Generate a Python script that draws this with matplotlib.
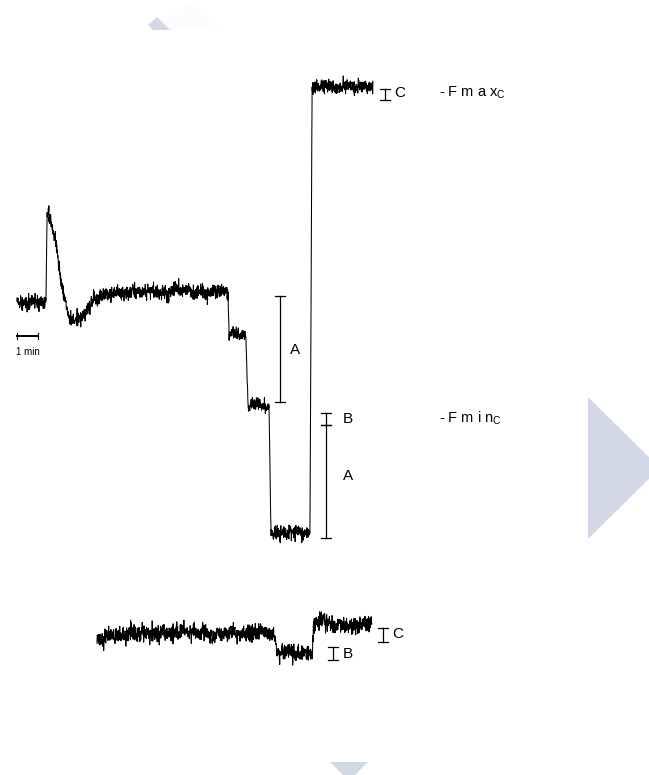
import matplotlib
matplotlib.use("Agg")
import matplotlib.pyplot as plt
import numpy as np
from matplotlib.patches import Polygon

plt.rcParams['font.family'] = ['Liberation Sans', 'DejaVu Sans']
plt.rcParams['mathtext.default'] = 'regular'

# main fluorescence trace: time (min) / level (a.u.) at the turning points
main_t = [0.00, 1.38, 1.43, 1.52, 1.81, 2.14, 2.38, 2.67, 3.10, 3.57, 4.19, 5.14,
          10.05, 10.10, 10.90, 11.00, 12.00, 12.10, 13.95, 14.05, 16.95]
main_F = [472, 472, 559, 562, 537, 490, 462, 453, 457, 473, 481, 483,
          483, 440, 442, 370, 370, 242, 242, 689, 689]

# control trace underneath
ctrl_t = [3.81, 4.43, 6.33, 12.24, 12.38, 14.05, 14.14, 14.43, 15.14, 16.90]
ctrl_F = [133, 138, 142, 142, 123, 122, 153, 155, 149, 150]

# calibration bars: (time, bottom, top)
bars = [
    (12.52, 373, 479),
    (14.71, 350, 362),
    (14.71, 237, 350),
    (17.52, 675, 686),
    (17.43, 133, 147),
    (15.05, 115, 128),
]

W, H = 649, 775
px_per_min = 21.0
x0_px = 17.0

fig = plt.figure(figsize=(W / 100, H / 100), dpi=100)
ax = fig.add_axes([0, 0, 1, 1])
ax.set_xlim(-x0_px / px_per_min, (W - x0_px) / px_per_min)
ax.set_ylim(0, H)
ax.axis('off')

rng = np.random.default_rng(11)


def noisy(tk, fk, sd, dt=1 / 110):
    t = np.arange(tk[0], tk[-1] + dt / 2, dt)
    f = np.interp(t, tk, fk)
    slow = np.convolve(rng.normal(0, 1, t.size), np.ones(25) / 5, mode='same')
    return t, f + rng.normal(0, sd, t.size) + slow * sd * 0.35


t, f = noisy(main_t, main_F, 3.3)
ax.plot(t, f, color='black', lw=0.75)
t, f = noisy(ctrl_t, ctrl_F, 3.8)
ax.plot(t, f, color='black', lw=0.75)

cap = 0.24
for bt, lo, hi in bars:
    ax.plot([bt, bt], [lo, hi], color='black', lw=0.9)
    ax.plot([bt - cap, bt + cap], [lo, lo], color='black', lw=0.9)
    ax.plot([bt - cap, bt + cap], [hi, hi], color='black', lw=0.9)

lab = dict(fontsize=11, va='center', ha='left')
ax.text(13.0, 425, 'A', **lab)
ax.text(15.5, 356, 'B', **lab)
ax.text(15.5, 299, 'A', **lab)
ax.text(17.95, 682, 'C', **lab)
ax.text(17.85, 141, 'C', **lab)
ax.text(15.5, 121, 'B', **lab)

ax.text(20.1, 682, '- F m a x$_{C}$', fontsize=10.5, va='center', ha='left')
ax.text(20.1, 357, '- F m i n$_{C}$', fontsize=10.5, va='center', ha='left')

# 1 min scale bar
ax.plot([0, 1], [439, 439], color='black', lw=1.4)
ax.plot([0, 0], [436, 442], color='black', lw=0.8)
ax.plot([1, 1], [436, 442], color='black', lw=0.8)
ax.text(0.5, 423, '1 min', fontsize=7, ha='center', va='center')

# page navigation arrows (pixel coords)
def px_poly(pts, color):
    pts = [(x / W, 1 - y / H) for x, y in pts]
    fig.patches.append(Polygon(pts, closed=True, transform=fig.transFigure,
                               facecolor=color, edgecolor='none'))

arrow = '#d3d8e7'
px_poly([(588, 397), (588, 539), (660, 468)], arrow)
px_poly([(330, 762), (368, 762), (349, 781)], arrow)
px_poly([(153, 30), (190, 3), (220, 30)], '#fbfcfd')
px_poly([(148, 25), (157, 17), (170, 30), (153, 30)], arrow)

fig.savefig('out.png', dpi=100)
